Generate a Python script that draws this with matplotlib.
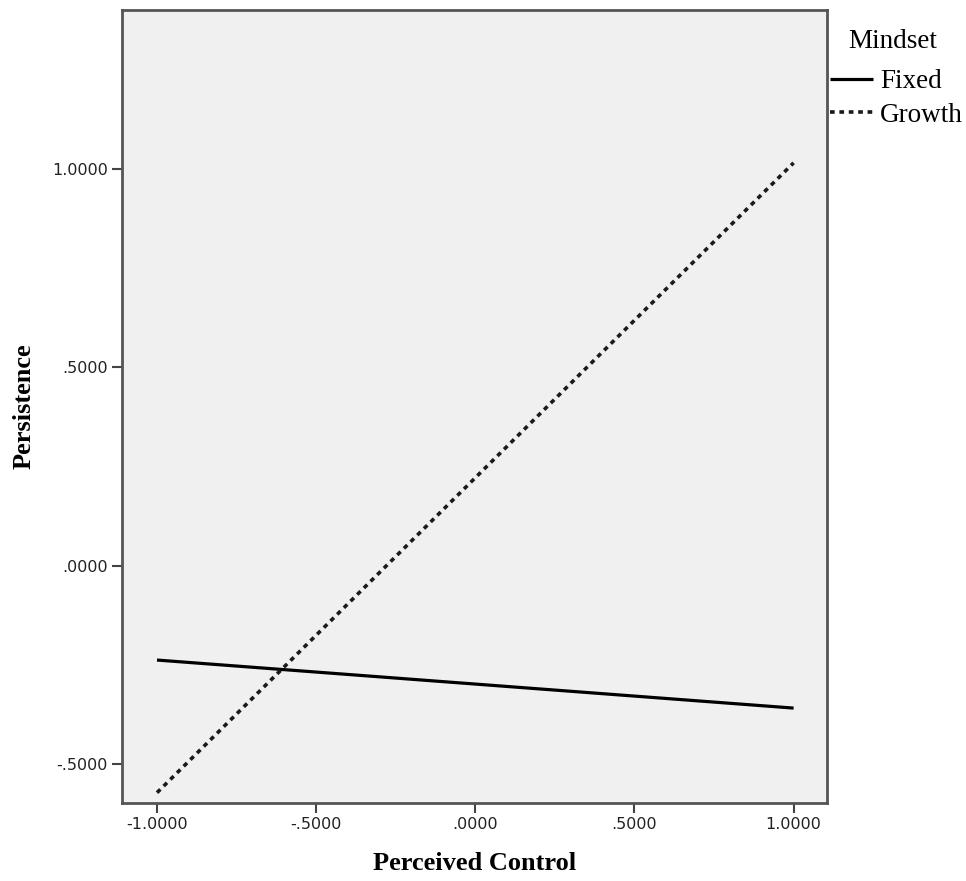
import matplotlib
matplotlib.use("Agg")
import matplotlib.pyplot as plt
from matplotlib.ticker import FixedLocator

x_vals = [-1.0, 1.0]
fixed_vals = [-0.237, -0.358]
growth_vals = [-0.571, 1.015]
x_ticks = [-1.0, -0.5, 0.0, 0.5, 1.0]
x_tick_labels = ["-1.0000", "-.5000", ".0000", ".5000", "1.0000"]
y_ticks = [-0.5, 0.0, 0.5, 1.0]
y_tick_labels = ["-.5000", ".0000", ".5000", "1.0000"]

fig = plt.figure(figsize=(9.66, 8.81), dpi=100)
ax = fig.add_axes([122/966, 1-803/881, (827-122)/966, (803-10)/881])
ax.set_facecolor("#f0f0f0")

ax.plot(x_vals, fixed_vals, color="black", lw=2.3, solid_capstyle="butt", label="Fixed")
ax.plot(x_vals, growth_vals, color="#1a1a1a", lw=2.6, linestyle=(0, (1.3, 1.3)),
        dash_capstyle="butt", label="Growth")

ax.set_xlim(-1.11, 1.105)
ax.set_ylim(-0.597, 1.4)
ax.xaxis.set_major_locator(FixedLocator(x_ticks))
ax.yaxis.set_major_locator(FixedLocator(y_ticks))
ax.set_xticklabels(x_tick_labels, fontsize=11.5, family="DejaVu Sans", color="#222222")
ax.set_yticklabels(y_tick_labels, fontsize=11.5, family="DejaVu Sans", color="#222222")
ax.tick_params(direction="out", length=7, width=1.5, color="#444444", pad=3)

for s in ax.spines.values():
    s.set_color("#555555")
    s.set_linewidth(2)

ax.set_xlabel("Perceived Control", fontsize=19, family="Liberation Serif",
              fontweight="bold")
ax.xaxis.set_label_coords(0.5, (803-852)/793)
ax.set_ylabel("Persistence", fontsize=19, family="Liberation Serif",
              fontweight="bold")
ax.yaxis.set_label_coords((36-122)/705, 0.5)

fig.text(893/966, 1-41/881, "Mindset", ha="center", va="center",
         family="Liberation Serif", fontsize=19.5)

leg = ax.legend(loc="upper left", bbox_to_anchor=(1.004, (803-69)/793), frameon=False,
                prop={"family": "Liberation Serif", "size": 19.5},
                handlelength=1.6, handletextpad=0.25, borderaxespad=0, borderpad=0,
                labelspacing=0.33)

fig.savefig("out.png", dpi=100)
